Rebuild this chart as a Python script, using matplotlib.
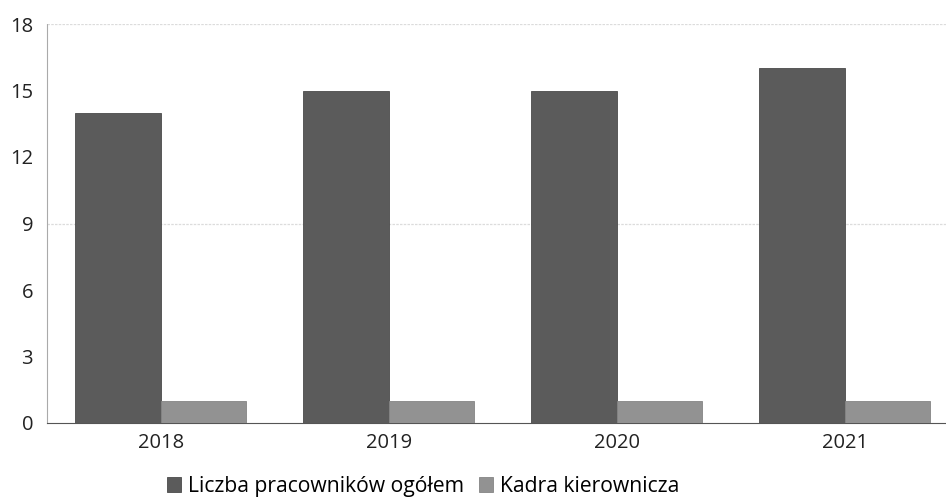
import matplotlib.pyplot as plt
import numpy as np

plt.rcParams['font.family'] = ['Open Sans', 'DejaVu Sans']

years = ["2018", "2019", "2020", "2021"]
total = [14, 15, 15, 16]
managers = [1, 1, 1, 1]
series_labels = ["Liczba pracowników ogółem", "Kadra kierownicza"]

dark_color = "#5b5b5b"
light_color = "#929292"

fig = plt.figure(figsize=(9.46, 5.0), dpi=100)
ax = fig.add_axes([47 / 946, 77 / 500, 899 / 946, 399 / 500])

x = np.arange(len(years))
width = 0.375
ax.bar(x - width / 2, total, width, color=dark_color, edgecolor="#4a4a4a", linewidth=0.6,
       label=series_labels[0], zorder=3)
ax.bar(x + width / 2, managers, width, color=light_color, edgecolor="#858585", linewidth=0.6,
       label=series_labels[1], zorder=3)

ax.set_xlim(-0.5, 3.443)
ax.set_ylim(0, 18)
ax.set_yticks(range(0, 19, 3))
ax.set_xticks(x, labels=years)
# only the 9 and 18 gridlines show up in the original
for g in [9, 18]:
    ax.axhline(g, color="#dcdcdc", linewidth=0.9, linestyle=(0, (2, 1)), zorder=0)

for s in ["top", "right"]:
    ax.spines[s].set_visible(False)
ax.spines["left"].set_color("#aaaaaa")
ax.spines["left"].set_linestyle((0, (1, 1)))
ax.spines["bottom"].set_color("#555555")
ax.tick_params(axis="both", length=0, labelsize=14.5, colors="#222222")
ax.tick_params(axis="x", pad=7)
ax.tick_params(axis="y", pad=10)

ax.legend(loc="center", bbox_to_anchor=(0.418, -0.158), ncol=2, frameon=False,
          fontsize=15.2, handlelength=0.7, handleheight=0.7, handletextpad=0.3,
          columnspacing=0.7)

fig.savefig("out.png", dpi=100)
